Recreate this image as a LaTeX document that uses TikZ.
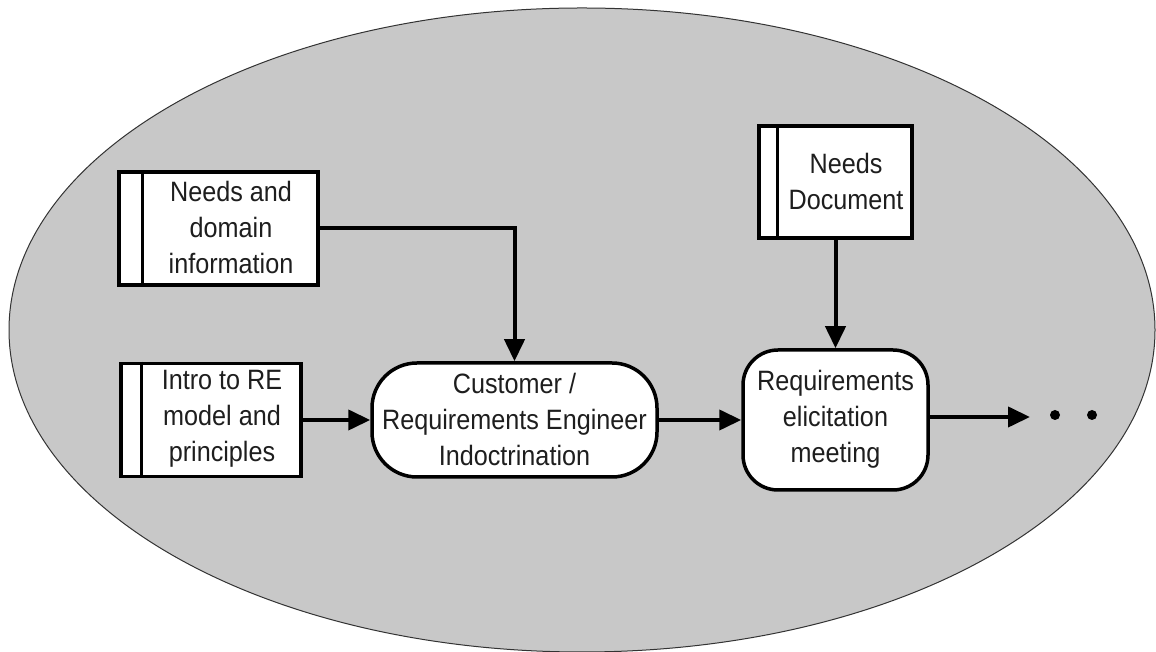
\documentclass[tikz,border=0pt]{standalone}
\usepackage{fontspec}
\setmainfont{Liberation Sans}[FakeStretch=0.9]
\usetikzlibrary{arrows.meta,shapes.geometric}
\definecolor{ellgray}{RGB}{200,200,200}
\definecolor{txt}{RGB}{30,30,30}
\begin{document}
\begin{tikzpicture}[x=1pt,y=1pt,
  docbox/.style={draw=black, fill=white, line width=3.5pt, minimum width=#1, inner sep=0pt},
  boxtxt/.style={text=txt, align=center, font=\fontsize{28}{36}\selectfont, inner sep=0pt},
  procbox/.style={draw=black, fill=white, line width=3.5pt, inner sep=0pt},
  arr/.style={line width=4pt, -{Triangle[length=22pt,width=20pt]}},
  dot/.style={circle, fill=black, inner sep=0pt, minimum size=10pt}
]
\useasboundingbox (0,0) rectangle (1156,652);
\node[draw=black!80, fill=ellgray, line width=1pt, ellipse, minimum width=1146pt, minimum height=644pt, inner sep=0pt] (ell) at (582,322) {};

% document boxes
\node[docbox=199pt, minimum height=113pt] (b1) at (218.5,423.5) {};
\draw[line width=3.5pt] ([xshift=25pt]b1.north west) -- ([xshift=25pt]b1.south west);
\node[boxtxt] (t1) at (231,424) {Needs and\\domain\\information};

\node[docbox=180pt, minimum height=113pt] (b2) at (211,232) {};
\draw[line width=3.5pt] ([xshift=22pt]b2.north west) -- ([xshift=22pt]b2.south west);
\node[boxtxt] (t2) at (222,233) {Intro to RE\\model and\\principles};

\node[docbox=153pt, minimum height=112pt] (b3) at (835.5,470) {};
\draw[line width=3.5pt] ([xshift=20pt]b3.north west) -- ([xshift=20pt]b3.south west);
\node[boxtxt] (t3) at (846,470) {Needs\\Document};

% process boxes
\node[procbox, rounded corners=45pt, minimum width=285pt, minimum height=114pt] (p1) at (514.5,232) {};
\node[boxtxt] (t4) at (514.5,233) {Customer /\\Requirements Engineer\\Indoctrination};

\node[procbox, rounded corners=35pt, minimum width=185pt, minimum height=140pt] (p2) at (835.5,232) {};
\node[boxtxt] (t5) at (835.5,233) {Requirements\\elicitation\\meeting};

% connectors
\coordinate (e1) at (1030,235);
\draw[arr] (b1.east) -| (p1.north);
\draw[arr] (b2.east) -- (p1.west);
\draw[arr] (p1.east) -- (p2.west);
\draw[arr] (b3.south) -- (p2.north);
\draw[arr] (p2.east |- e1) -- (e1);
\node[dot] (d1) at (1055,237) {};
\node[dot] (d2) at (1092,237) {};
\end{tikzpicture}
\end{document}
